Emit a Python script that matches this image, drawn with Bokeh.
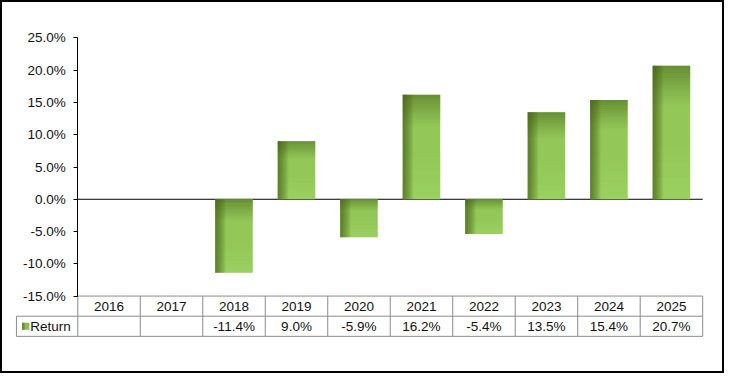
from bokeh.plotting import figure
from bokeh.models import Range1d, LinearAxis, FixedTicker, PrintfTickFormatter, ColumnDataSource
from bokeh.core.properties import value
from bokeh.embed import file_html
from bokeh.resources import INLINE

# ---- data ----
years = ["2016", "2017", "2018", "2019", "2020", "2021", "2022", "2023", "2024", "2025"]
returns = [None, None, -11.4, 9.0, -5.9, 16.2, -5.4, 13.5, 15.4, 20.7]
series_name = "Return"
y_ticks = [-15, -10, -5, 0, 5, 10, 15, 20, 25]

# ---- layout constants (pixels, figure coordinates) ----
W, H = 724, 373
SX = W / 740.0
SY = H / 389.0
AX_X = 79.0 * SX           # x of the y axis
COLW = 63.87 * SX          # width of one year column
ZERO_Y = 207.3 * SY        # y of 0%
PPU = 6.73 * SY            # pixels per percent
ROW_H = 21.0 * SY / PPU    # table row height in % units
HDR_W = (79.0 - 16.3) * SX / COLW
FONT = value("Liberation Sans")
FS = "13.5px"

LIGHT = "#93C758"
DARK = "#435E16"
GRID = "#8C8C8C"

x0 = -AX_X / COLW
x1 = (W - AX_X) / COLW
y1 = ZERO_Y / PPU
y0 = -(H - ZERO_Y) / PPU

p = figure(width=W, height=H, output_backend="svg", toolbar_location=None,
           x_range=Range1d(x0, x1), y_range=Range1d(y0, y1),
           x_axis_location=None, y_axis_location=None,
           min_border=0, min_border_left=0, min_border_right=0,
           min_border_top=0, min_border_bottom=0)
p.grid.visible = False
p.background_fill_color = "white"
p.border_fill_color = "white"
p.outline_line_color = "black"
p.outline_line_width = 3

ymin, ymax = y_ticks[0], y_ticks[-1]
ncol = len(years)

# ---- y axis at x=0 ----
ax = LinearAxis(fixed_location=0, bounds=(ymin, ymax),
                ticker=FixedTicker(ticks=y_ticks),
                formatter=PrintfTickFormatter(format="%.1f%%"),
                major_tick_in=0, major_tick_out=4, minor_tick_out=0, minor_tick_in=0,
                major_label_standoff=8,
                axis_line_color="black", major_tick_line_color="black",
                major_label_text_font="Liberation Sans",
                major_label_text_font_size=FS,
                major_label_text_color="#111111")
p.add_layout(ax, "left")

# zero line
p.segment(x0=[0], y0=[0], x1=[ncol], y1=[0], line_color="black", line_width=1)

# ---- bars ----
BW = 0.6
bl, br, bt, bb = [], [], [], []
for i, v in enumerate(returns):
    if v is None:
        continue
    bl.append(i + 0.5 - BW / 2)
    br.append(i + 0.5 + BW / 2)
    bt.append(max(0, v))
    bb.append(min(0, v))
p.quad(left=bl, right=br, top=bt, bottom=bb, fill_color=LIGHT, line_color=None)

# gradient shading: lightening toward bottom, top band and left band (bevel look)
N = 16
sl, sr, st, sb, sa, sc = [], [], [], [], [], []
for l, r, t, b in zip(bl, br, bt, bb):
    h = t - b
    lb = 0.45 * h
    for k in range(8):
        sl.append(l); sr.append(r)
        sb.append(b + lb * k / 8); st.append(b + lb * (k + 1) / 8)
        sa.append(0.22 * (1 - k / 8)); sc.append("#B4F27A")
    band = 0.30 * h
    for k in range(N):
        sl.append(l); sr.append(r)
        st.append(t - band * k / N); sb.append(t - band * (k + 1) / N)
        sa.append(0.55 * (1 - k / N) ** 1.2); sc.append(DARK)
    bw = (r - l) * 0.28
    for k in range(N):
        sl.append(l + bw * k / N); sr.append(l + bw * (k + 1) / N)
        st.append(t); sb.append(b)
        sa.append(0.85 * (1 - k / N) ** 0.9); sc.append(DARK)
shade = ColumnDataSource(dict(l=sl, r=sr, t=st, b=sb, a=sa, c=sc))
p.quad(left="l", right="r", top="t", bottom="b", fill_color="c", fill_alpha="a",
       line_color=None, source=shade)

# ---- data table ----
r1 = ymin
r2 = ymin - ROW_H
r3 = ymin - 2 * ROW_H
p.segment(x0=[0, -HDR_W, -HDR_W], y0=[r1, r2, r3], x1=[ncol] * 3, y1=[r1, r2, r3],
          line_color=GRID, line_width=1)
vx = list(range(ncol + 1))
p.segment(x0=vx, y0=[r1] * len(vx), x1=vx, y1=[r3] * len(vx), line_color=GRID, line_width=1)
p.segment(x0=[-HDR_W], y0=[r2], x1=[-HDR_W], y1=[r3], line_color=GRID, line_width=1)

centers = [i + 0.5 for i in range(ncol)]
p.text(x=centers, y=[(r1 + r2) / 2] * ncol, text=years, text_font=FONT,
       text_font_size=FS, text_align="center", text_baseline="middle", text_color="#111111")
vals = ["" if v is None else f"{v:.1f}%" for v in returns]
p.text(x=centers, y=[(r2 + r3) / 2] * ncol, text=vals, text_font=FONT,
       text_font_size=FS, text_align="center", text_baseline="middle", text_color="#111111")

# legend key in header cell
kx0 = (22.0 * SX - AX_X) / COLW
kx1 = (29.5 * SX - AX_X) / COLW
ky0 = -(336.0 * SY - ZERO_Y) / PPU
ky1 = -(343.5 * SY - ZERO_Y) / PPU
p.quad(left=[kx0], right=[kx1], top=[ky0], bottom=[ky1], fill_color="#8DBB52", line_color=None)
p.quad(left=[kx0], right=[kx0 + (kx1 - kx0) * 0.35], top=[ky0], bottom=[ky1],
       fill_color="#6E8C3A", line_color=None)
p.text(x=[(30.5 * SX - AX_X) / COLW], y=[(r2 + r3) / 2], text=[series_name], text_font=FONT,
       text_font_size=FS, text_align="left", text_baseline="middle", text_color="#111111")

open("out.html", "w").write(file_html(p, INLINE))
